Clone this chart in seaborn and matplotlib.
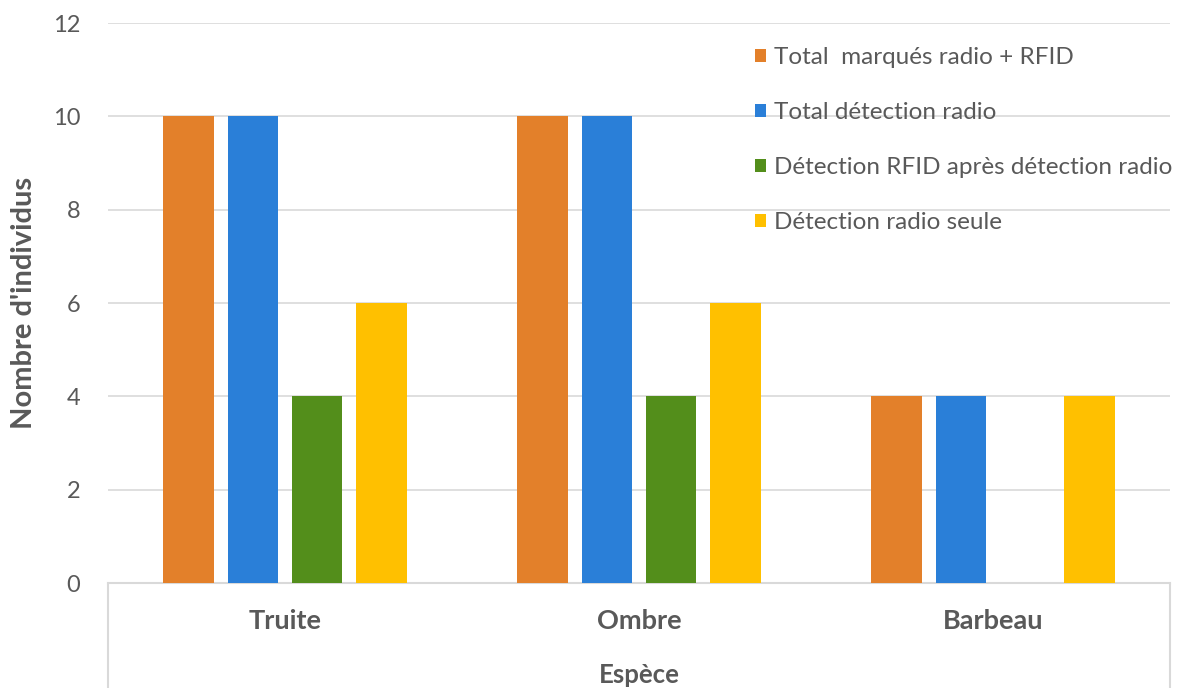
import matplotlib
matplotlib.use("Agg")
import matplotlib.pyplot as plt
import seaborn as sns
import pandas as pd

# Species on the x axis
especes = ["Truite", "Ombre", "Barbeau"]

# Counts per series
total_marques = [10, 10, 4]
total_detection_radio = [10, 10, 4]
detection_rfid_apres_radio = [4, 4, 0]
detection_radio_seule = [6, 6, 4]

series_labels = [
    "Total  marqués radio + RFID",
    "Total détection radio",
    "Détection RFID après détection radio",
    "Détection radio seule",
]
series_values = [total_marques, total_detection_radio,
                 detection_rfid_apres_radio, detection_radio_seule]
series_colors = ["#E3802A", "#2A7FD8", "#538E1B", "#FFC000"]

y_ticks = [0, 2, 4, 6, 8, 10, 12]

rows = []
for lab, vals in zip(series_labels, series_values):
    for esp, v in zip(especes, vals):
        rows.append({"Espèce": esp, "Série": lab, "Nombre": v})
df = pd.DataFrame(rows)

sns.set_theme(style="white")
plt.rcParams["font.family"] = ["Lato", "DejaVu Sans"]

text_col = "#595959"
grid_col = "#D9D9D9"

fig = plt.figure(figsize=(11.82, 6.88), dpi=100)
ax = fig.add_axes([108 / 1182, 1 - 583 / 688, (1170 - 108) / 1182, (583 - 23) / 688])

sns.barplot(data=df, x="Espèce", y="Nombre", hue="Série",
            order=especes, hue_order=series_labels,
            palette=series_colors, saturation=1, width=0.727, gap=0.22,
            linewidth=0, errorbar=None, ax=ax, zorder=3)

ax.set_xlim(-0.5, 2.5)
ax.set_ylim(0, 12)
ax.set_yticks(y_ticks)
ax.set_yticklabels([str(t) for t in y_ticks], fontsize=17, color=text_col)
ax.yaxis.grid(True, color=grid_col, linewidth=1.2, zorder=0)
ax.set_axisbelow(True)
ax.tick_params(axis="y", length=0, pad=20)
ax.tick_params(axis="x", length=0, pad=19)
for lbl in ax.get_xticklabels():
    lbl.set_fontsize(19.5)
    lbl.set_fontweight("bold")
    lbl.set_color(text_col)

for side in ["top", "right", "left"]:
    ax.spines[side].set_visible(False)
ax.spines["bottom"].set_color(grid_col)
ax.spines["bottom"].set_linewidth(1.5)

# Category box edges extending below the axis
for xpos in (0, 1):
    ax.plot([xpos, xpos], [0, -0.25], transform=ax.transAxes,
            color=grid_col, linewidth=1.5, clip_on=False)

ax.set_ylabel("Nombre d'individus", fontsize=21, fontweight="bold",
              color=text_col, labelpad=11)
ax.set_xlabel("Espèce", fontsize=18.5, fontweight="bold", color=text_col, labelpad=21)

handles, labels = ax.get_legend_handles_labels()
ax.legend(handles, labels, loc="upper left", bbox_to_anchor=(0.6, 0.975),
          frameon=False, fontsize=17.5, handlelength=0.45, handleheight=0.45,
          handletextpad=0.33, labelspacing=1.4, labelcolor=text_col,
          borderaxespad=0)

fig.savefig("out.png", dpi=100)
